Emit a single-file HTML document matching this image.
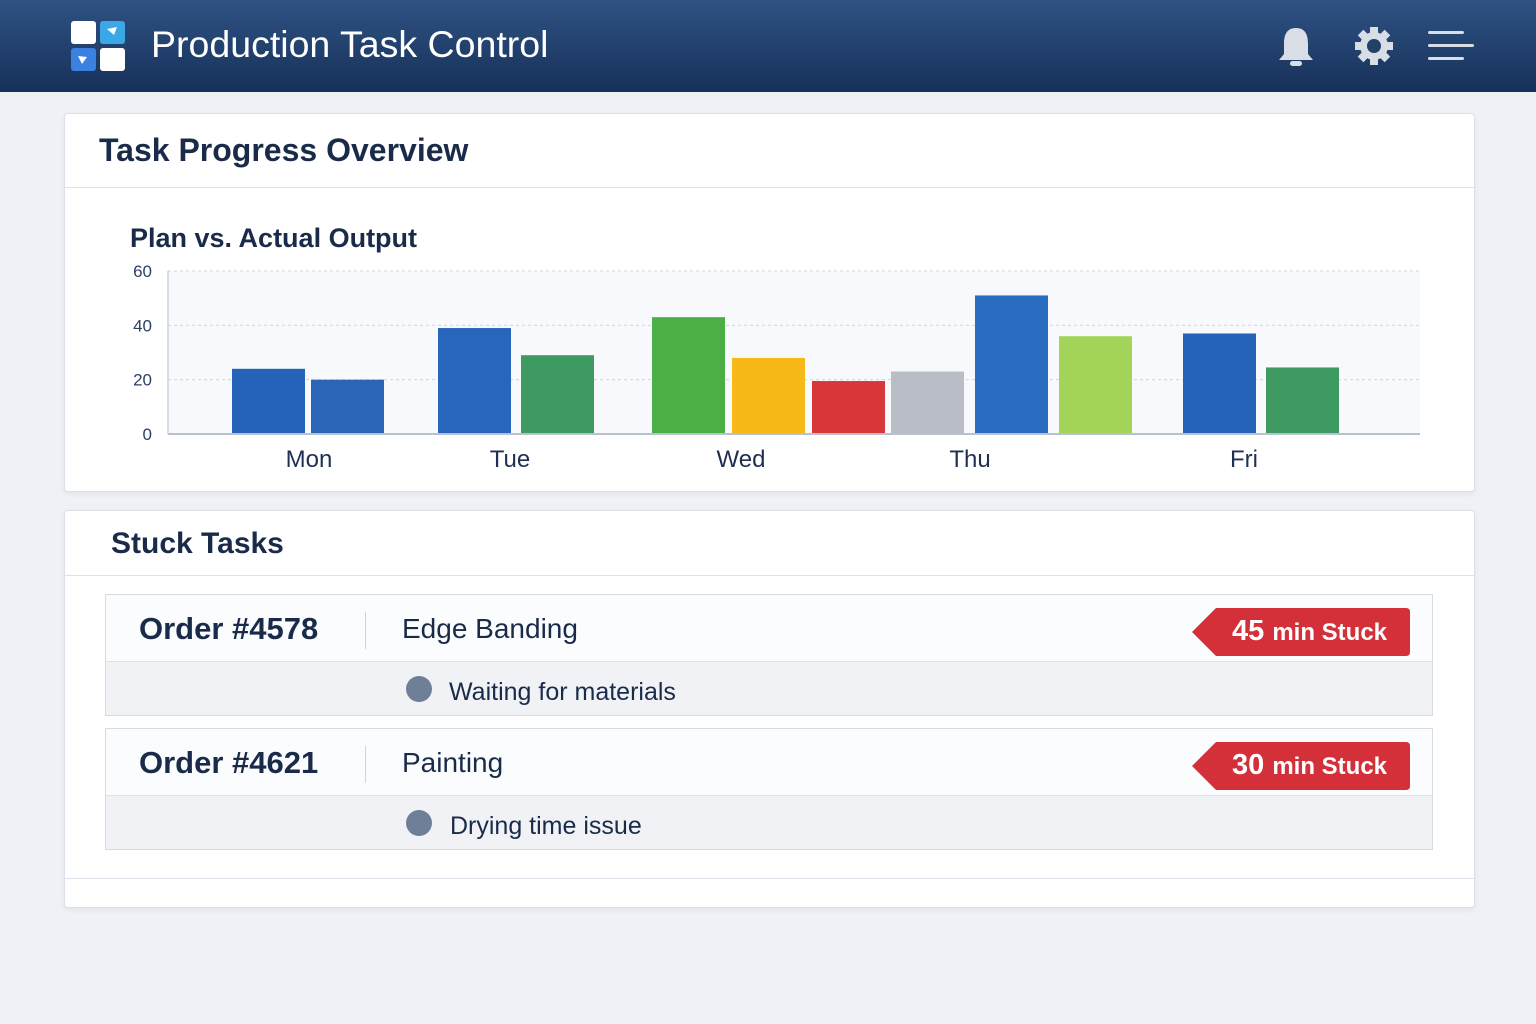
<!DOCTYPE html>
<html><head><meta charset="utf-8">
<style>
*{margin:0;padding:0;box-sizing:border-box}
body{width:1536px;height:1024px;background:#eef1f5;font-family:"Liberation Sans",sans-serif;position:relative;overflow:hidden;color:#1a2b4a}
.abs{position:absolute}
.header{left:0;top:0;width:1536px;height:92px;background:linear-gradient(#2f5283,#163159)}
.card{background:#fff;border:1px solid #dce1e9;border-radius:4px;box-shadow:0 2px 6px rgba(0,0,0,0.06)}
.row{border:1px solid #d6dbe3;background:#fbfcfd}
.sub{background:#f0f2f5;border-top:1px solid #dde1e8}
.badge{height:48px;width:218px}
.badge .t{position:absolute;left:40px;top:7px;color:#fff;font-weight:bold;font-size:29px;white-space:nowrap}
.badge .t span{font-size:24px}
</style></head><body>
<div class="abs header">
  <svg class="abs" style="left:71px;top:21px" width="56" height="50">
    <rect x="0" y="0" width="25" height="23" rx="3" fill="#fff"/>
    <rect x="29" y="0" width="25" height="23" rx="3" fill="#3aa7e6"/>
    <rect x="0" y="27" width="25" height="23" rx="3" fill="#3b82e0"/>
    <rect x="29" y="27" width="25" height="23" rx="3" fill="#fff"/>
    <path d="M36 8 L46 6 L43 14 Z" fill="#fff"/><path d="M7 35 L16 36 L11 43 Z" fill="#fff"/>
  </svg>
  <div class="abs" style="left:151px;top:23px;font-size:37.5px;color:#fff;white-space:nowrap">Production Task Control</div>
  <svg class="abs" style="left:1276px;top:26px" width="40" height="42">
    <path d="M20 2 C10 2 8 10 8 18 L8 28 L3 34 L37 34 L32 28 L32 18 C32 10 30 2 20 2Z" fill="#d8dde6"/>
    <rect x="14" y="35" width="12" height="5" rx="2.5" fill="#d8dde6"/>
  </svg>
  <svg class="abs" style="left:1354px;top:26px" width="40" height="40" viewBox="-20 -20 40 40">
    <g fill="#d8dde6">
      <circle r="14"/>
      <rect x="-4" y="-19" width="8" height="38"/><rect x="-19" y="-4" width="38" height="8"/>
      <rect x="-4" y="-19" width="8" height="38" transform="rotate(45)"/><rect x="-4" y="-19" width="8" height="38" transform="rotate(-45)"/>
    </g>
    <circle r="7" fill="#23406b"/>
  </svg>
  <svg class="abs" style="left:1426px;top:30px" width="50" height="32">
    <rect x="2" y="1" width="36" height="3" rx="1.5" fill="#d8dde6"/>
    <rect x="2" y="14" width="46" height="3" rx="1.5" fill="#d8dde6"/>
    <rect x="2" y="27" width="36" height="3" rx="1.5" fill="#d8dde6"/>
  </svg>
</div>

<div class="abs card" style="left:64px;top:113px;width:1411px;height:379px">
  <div class="abs" style="left:34px;top:18px;font-size:32px;font-weight:bold;white-space:nowrap">Task Progress Overview</div>
  <div class="abs" style="left:0;top:73px;width:100%;height:1px;background:#dde2ea"></div>
</div>
<div class="abs" style="left:130px;top:223px;font-size:27px;font-weight:bold;white-space:nowrap">Plan vs. Actual Output</div>
<svg id="chart" class="abs" style="left:0;top:0" width="1536" height="500"></svg>

<div class="abs card" style="left:64px;top:510px;width:1411px;height:398px">
  <div class="abs" style="left:46px;top:16px;font-size:30px;font-weight:bold;white-space:nowrap">Stuck Tasks</div>
  <div class="abs" style="left:0;top:64px;width:100%;height:1px;background:#dde2ea"></div>
  <div class="abs" style="left:0;top:367px;width:100%;height:1px;background:#dde2ea"></div>
</div>

<div class="abs row" style="left:105px;top:594px;width:1328px;height:122px">
  <div class="abs" style="left:33px;top:16px;font-size:31px;font-weight:bold;white-space:nowrap">Order #4578</div>
  <div class="abs" style="left:259px;top:17px;width:1px;height:37px;background:#cfd5de"></div>
  <div class="abs" style="left:296px;top:18px;font-size:28px;white-space:nowrap">Edge Banding</div>
  <div class="abs badge" style="left:1086px;top:13px">
    <svg class="abs" width="218" height="48"><path d="M0 24 L24 0 L214 0 Q218 0 218 4 L218 44 Q218 48 214 48 L24 48 Z" fill="#d3303a"/></svg>
    <div class="t">45 <span>min Stuck</span></div>
  </div>
  <div class="abs sub" style="left:0;top:66px;width:1326px;height:54px">
    <div class="abs" style="left:300px;top:14px;width:26px;height:26px;border-radius:50%;background:#6f7f98"></div>
    <div class="abs" style="left:343px;top:16px;font-size:25px;white-space:nowrap">Waiting for materials</div>
  </div>
</div>

<div class="abs row" style="left:105px;top:728px;width:1328px;height:122px">
  <div class="abs" style="left:33px;top:16px;font-size:31px;font-weight:bold;white-space:nowrap">Order #4621</div>
  <div class="abs" style="left:259px;top:17px;width:1px;height:37px;background:#cfd5de"></div>
  <div class="abs" style="left:296px;top:18px;font-size:28px;white-space:nowrap">Painting</div>
  <div class="abs badge" style="left:1086px;top:13px">
    <svg class="abs" width="218" height="48"><path d="M0 24 L24 0 L214 0 Q218 0 218 4 L218 44 Q218 48 214 48 L24 48 Z" fill="#d3303a"/></svg>
    <div class="t">30 <span>min Stuck</span></div>
  </div>
  <div class="abs sub" style="left:0;top:66px;width:1326px;height:54px">
    <div class="abs" style="left:300px;top:14px;width:26px;height:26px;border-radius:50%;background:#6f7f98"></div>
    <div class="abs" style="left:344px;top:16px;font-size:25px;white-space:nowrap">Drying time issue</div>
  </div>
</div>

<script>
const days = ["Mon","Tue","Wed","Thu","Fri"];
const barDay = [0,0,1,1,2,2,2,3,3,3,4,4];
const barValues = [24,20,39,29,43,28,19.5,23,51,36,37,24.5];
const barColors = ["#2563b8","#2a65b8","#2866bc","#3e9a60","#4caf45","#f7b918","#d9363a","#b9bec6","#2a6cc0","#a4d35a","#2563b8","#3e9a60"];
const yTicks = [0,20,40,60];

const svg = document.getElementById('chart');
const NS = "http://www.w3.org/2000/svg";
const plotL = 168, plotR = 1420, y0 = 434, yTop = 271, yMax = 60;
const y = v => y0 - (v / yMax) * (y0 - yTop);
const groupStart = [232, 438, 652, 891, 1183];   // layout: left edge of each day group
const groupStep = [79, 83, 80, 84, 83];          // layout: bar pitch within group
const labelX = [309, 510, 741, 970, 1244];        // layout: day label centres
const barW = 73;
function mk(tag, attrs){const e=document.createElementNS(NS,tag);for(const k in attrs)e.setAttribute(k,attrs[k]);svg.appendChild(e);return e;}

const bg = mk('rect',{x:plotL,y:yTop,width:plotR-plotL,height:y0-yTop,fill:'#f8f9fc'});



yTicks.forEach(t=>{
  if(t>0){
    const g = mk('line',{x1:plotL,x2:plotR,y1:y(t),y2:y(t),stroke:'#cfd5df','stroke-dasharray':'3 3'});
    
    
  }
  const tl = mk('text',{x:152,y:y(t)+6,'text-anchor':'end','font-size':17,fill:'#2d3f66','font-family':'Liberation Sans, sans-serif'});
  tl.textContent = t;
  
  
});

const counts = {};
barValues.forEach((v,i)=>{
  const d = barDay[i];
  const k = counts[d] || 0; counts[d] = k+1;
  const x = groupStart[d] + k*groupStep[d];
  const r = mk('rect',{x:x,y:y(v),width:barW,height:y0-y(v),fill:barColors[i]});
  
  
});

const ax = mk('line',{x1:plotL,x2:plotR,y1:y0,y2:y0,stroke:'#b8c1d0','stroke-width':2});


const ay = mk('line',{x1:plotL,x2:plotL,y1:yTop,y2:y0,stroke:'#ccd3de','stroke-width':1.5});



days.forEach((d,i)=>{
  const t = mk('text',{x:labelX[i],y:467,'text-anchor':'middle','font-size':24,fill:'#1f2f52','font-family':'Liberation Sans, sans-serif'});
  t.textContent = d;
  
  
});
</script>
</body></html>
